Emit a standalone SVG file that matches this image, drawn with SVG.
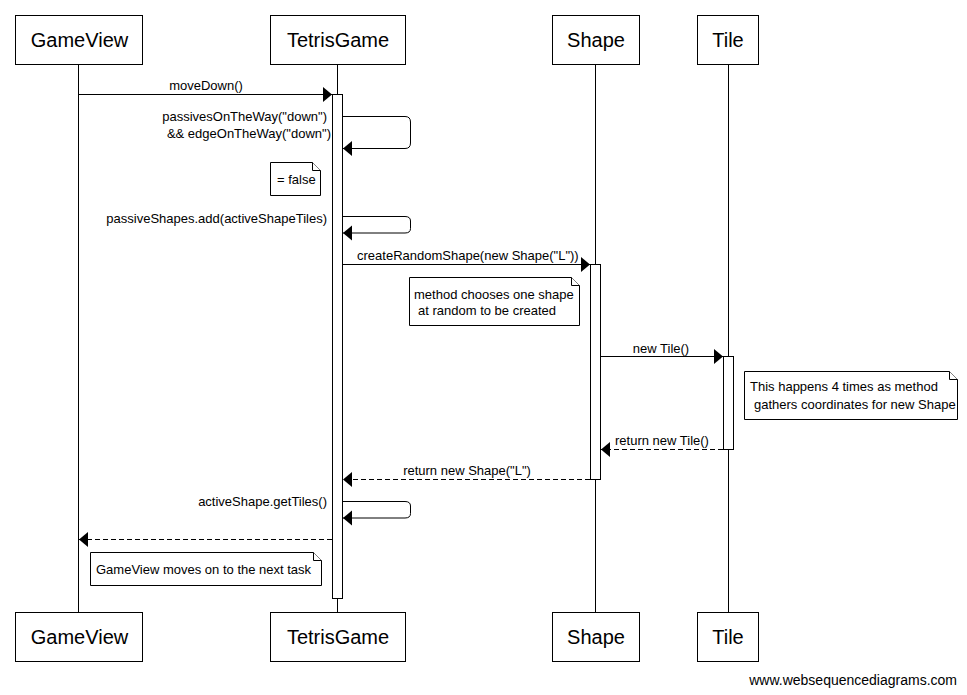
<svg xmlns="http://www.w3.org/2000/svg" width="967" height="695" viewBox="0 0 967 695">
  <style>
    .box { fill: #fff; stroke: #000; stroke-width: 1; }
    .life { stroke: #000; stroke-width: 1; fill: none; }
    .bar { fill: #fff; stroke: #000; stroke-width: 1; }
    .msg { stroke: #000; stroke-width: 1; fill: none; marker-end: url(#head); }
    .ret { stroke-dasharray: 5 3; }
    .name { font-family: "Liberation Sans", Arial, sans-serif; font-size: 20px; fill: #000; text-anchor: middle; }
    .lbl { font-family: "Liberation Sans", Arial, sans-serif; font-size: 13px; fill: #000; }
    .note { fill: #fff; stroke: #000; stroke-width: 1; }
  </style>
  <defs>
    <marker id="head" markerUnits="userSpaceOnUse" markerWidth="10" markerHeight="16" refX="9" refY="7.5" orient="auto">
      <path d="M0,0 L9,7.5 L0,15 z" fill="#000"/>
    </marker>
  </defs>
  <rect width="967" height="695" fill="#fff"/>

  <!-- lifelines -->
  <g id="lifelines">
    <line class="life" x1="78.5" y1="64" x2="78.5" y2="612"/>
    <line class="life" x1="337.5" y1="64" x2="337.5" y2="612"/>
    <line class="life" x1="595.5" y1="64" x2="595.5" y2="612"/>
    <line class="life" x1="728.5" y1="64" x2="728.5" y2="612"/>
  </g>

  <!-- participants -->
  <g id="gameview">
    <rect class="box" x="15.5" y="15.5" width="127" height="49"/>
    <text class="name" x="79.5" y="47">GameView</text>
    <rect class="box" x="15.5" y="612.5" width="127" height="49"/>
    <text class="name" x="79.5" y="644">GameView</text>
  </g>
  <g id="tetrisgame">
    <rect class="box" x="270.5" y="15.5" width="135" height="49"/>
    <text class="name" x="338" y="47">TetrisGame</text>
    <rect class="box" x="270.5" y="612.5" width="135" height="49"/>
    <text class="name" x="338" y="644">TetrisGame</text>
    <rect class="bar" x="332.5" y="94.5" width="10" height="504"/>
  </g>
  <g id="shape">
    <rect class="box" x="552.5" y="15.5" width="87" height="49"/>
    <text class="name" x="596" y="47">Shape</text>
    <rect class="box" x="552.5" y="612.5" width="87" height="49"/>
    <text class="name" x="596" y="644">Shape</text>
    <rect class="bar" x="590.5" y="264.5" width="10" height="215"/>
  </g>
  <g id="tile">
    <rect class="box" x="697.5" y="15.5" width="61" height="49"/>
    <text class="name" x="728" y="47">Tile</text>
    <rect class="box" x="697.5" y="612.5" width="61" height="49"/>
    <text class="name" x="728" y="644">Tile</text>
    <rect class="bar" x="723.5" y="356.5" width="10" height="93"/>
  </g>

  <!-- messages -->
  <g id="connectors">
    <line class="msg" x1="78.5" y1="94.5" x2="332" y2="94.5"/>
    <text class="lbl" x="206" y="90" text-anchor="middle">moveDown()</text>

    <path class="msg" d="M342.5,116.5 H405 Q410.5,116.5 410.5,122 V143 Q410.5,148.5 405,148.5 H343"/>
    <text class="lbl" x="327" y="121" text-anchor="end">passivesOnTheWay("down")</text>
    <text class="lbl" x="331" y="138" text-anchor="end">&amp;&amp; edgeOnTheWay("down")</text>

    <path class="msg" d="M342.5,216.5 H405 Q410.5,216.5 410.5,221 V228.5 Q410.5,233 405,233 H343"/>
    <text class="lbl" x="327" y="223" text-anchor="end">passiveShapes.add(activeShapeTiles)</text>

    <line class="msg" x1="342.5" y1="264.5" x2="590" y2="264.5"/>
    <text class="lbl" x="357" y="260">createRandomShape(new Shape("L"))</text>

    <line class="msg" x1="600.5" y1="356.5" x2="723" y2="356.5"/>
    <text class="lbl" x="661" y="353" text-anchor="middle">new Tile()</text>

    <line class="msg ret" x1="723" y1="449.5" x2="601" y2="449.5"/>
    <text class="lbl" x="615" y="445">return new Tile()</text>

    <line class="msg ret" x1="590" y1="479.5" x2="343" y2="479.5"/>
    <text class="lbl" x="467" y="475" text-anchor="middle">return new Shape("L")</text>

    <path class="msg" d="M342.5,501.5 H405 Q410.5,501.5 410.5,506 V513.5 Q410.5,518 405,518 H343"/>
    <text class="lbl" x="327" y="506" text-anchor="end">activeShape.getTiles()</text>

    <line class="msg ret" x1="332" y1="539.5" x2="79" y2="539.5"/>
  </g>

  <!-- notes -->
  <g id="note-false">
    <path class="note" d="M270.5,162.5 H312.5 L320.5,170.5 V195.5 H270.5 Z"/>
    <path class="note" d="M312.5,162.5 V170.5 H320.5"/>
    <text class="lbl" x="277" y="184">= false</text>
  </g>
  <g id="note-random">
    <path class="note" d="M409.5,277.5 H571.5 L579.5,285.5 V325.5 H409.5 Z"/>
    <path class="note" d="M571.5,277.5 V285.5 H579.5"/>
    <text class="lbl" x="414" y="299">method chooses one shape</text>
    <text class="lbl" x="418" y="315">at random to be created</text>
  </g>
  <g id="note-tiles">
    <path class="note" d="M744.5,371.5 H949.5 L957.5,379.5 V419.5 H744.5 Z"/>
    <path class="note" d="M949.5,371.5 V379.5 H957.5"/>
    <text class="lbl" x="750" y="391">This happens 4 times as method</text>
    <text class="lbl" x="754" y="409">gathers coordinates for new Shape</text>
  </g>
  <g id="note-next">
    <path class="note" d="M90.5,552.5 H313.5 L321.5,560.5 V585.5 H90.5 Z"/>
    <path class="note" d="M313.5,552.5 V560.5 H321.5"/>
    <text class="lbl" x="96" y="574">GameView moves on to the next task</text>
  </g>

  <text class="lbl" x="957" y="685" text-anchor="end" style="font-size:14px">www.websequencediagrams.com</text>
</svg>
